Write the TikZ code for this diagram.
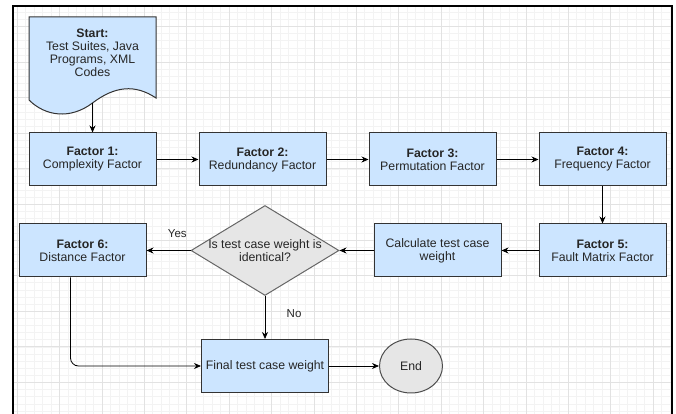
\documentclass[tikz,border=0pt]{standalone}
\usepackage{fontspec}
\setmainfont{Liberation Sans}
\usetikzlibrary{arrows.meta, positioning, shapes.geometric}
\definecolor{boxblue}{HTML}{CCE5FF}
\definecolor{boxgray}{HTML}{E6E6E6}
\definecolor{gridmajor}{HTML}{E2E2E2}
\definecolor{gridminor}{HTML}{F3F3F3}
\tikzset{
  every picture/.style={line width=0.8pt},
  every node/.style={font=\fontsize{12.3}{13}\selectfont, text=black!85},
  pbox/.style={draw=black!80, fill=boxblue, rectangle, minimum width=127pt, minimum height=53pt, inner sep=0pt, align=center, line width=1pt},
  pdecision/.style={draw=black!60, fill=boxgray, diamond, minimum width=148pt, minimum height=90pt, inner sep=0pt, line width=1pt},
  pend/.style={draw=black!70, fill=boxgray, ellipse, minimum width=63pt, minimum height=54pt, inner sep=0pt, line width=1pt},
  pdoc/.style={draw=black!80, fill=boxblue, line width=1pt},
  elabel/.style={font=\fontsize{11.5}{13}\selectfont}
}

\begin{document}
\begin{tikzpicture}[x=1pt, y=1pt, tips=proper, >={Stealth[length=7pt, width=6pt]}, node distance=37pt and 42pt]
    \useasboundingbox (0,0) rectangle (676,414);

    % grid
    \begin{scope}
      \clip (13,0) rectangle (672,408);
      \foreach \i in {-1,...,77}
        \draw[gridminor, line width=0.5pt] ({17+8.48*\i},0) -- ++(0,414);
      \foreach \j in {-2,...,56}
        \draw[gridminor, line width=0.5pt] (0,{387.6-7.12*\j}) -- ++(676,0);
      \foreach \i in {0,...,15}
        \draw[gridmajor, line width=0.6pt] ({17+42.4*\i},0) -- ++(0,414);
      \foreach \j in {0,...,11}
        \draw[gridmajor, line width=0.6pt] (0,{387.6-35.6*\j}) -- ++(676,0);
    \end{scope}
    \draw[line width=2.4pt] (13,0) -- (13,408) -- (672,408) -- (672,0);

    \filldraw[pdoc] (29,397) -- (156,397) -- (156,316)
      .. controls (135,330) and (115,328) .. (92.5,311)
      .. controls (70,294) and (45,298) .. (29,314) -- cycle;
    \node [align=center] (0) at (92.5,361) {\textbf{Start:}\\Test Suites, Java\\Programs, XML\\Codes};
    \coordinate (0w) at (92.5,311);

    \node [pbox] (1) at (92.5,254.5) {\textbf{Factor 1:}\\Complexity Factor};
    \node [pbox, right=of 1] (2) {\textbf{Factor 2:}\\Redundancy Factor};
    \node [pbox, right=of 2] (3) {\textbf{Factor 3:}\\Permutation Factor};
    \node [pbox, right=of 3] (4) {\textbf{Factor 4:}\\Frequency Factor};
    \node [pbox, below=of 4] (5) {\textbf{Factor 5:}\\Fault Matrix Factor};
    \node [pbox, left=37pt of 5] (6) {Calculate test case\\weight};
    \node [pdecision, left=34pt of 6, label={[align=center]center:{Is test case weight is\\identical?}}] (7) {};
    \node [pbox, left=44pt of 7] (8) {\textbf{Factor 6:}\\Distance Factor};
    \node [pbox, below=43pt of 7] (9) {Final test case weight};
    \node [pend, right=50pt of 9] (10) {End};

    \draw(0w) edge[->] (1);
    \draw(1) edge[->] (2);
    \draw(2) edge[->] (3);
    \draw(3) edge[->] (4);
    \draw(4) edge[->] (5);
    \draw(5) edge[->] (6);
    \draw(6) edge[->] (7);
    \draw(7) edge[->] node[elabel, pos=0.3, above=9pt]{Yes} (8);
    \draw(7) edge[->] node[elabel, pos=0.4, right=18pt]{No} (9);
    \draw[->, rounded corners=8pt] ([xshift=-12pt]8.south) |- (9);
    \draw(9) edge[->] (10);
\end{tikzpicture}
\end{document}
